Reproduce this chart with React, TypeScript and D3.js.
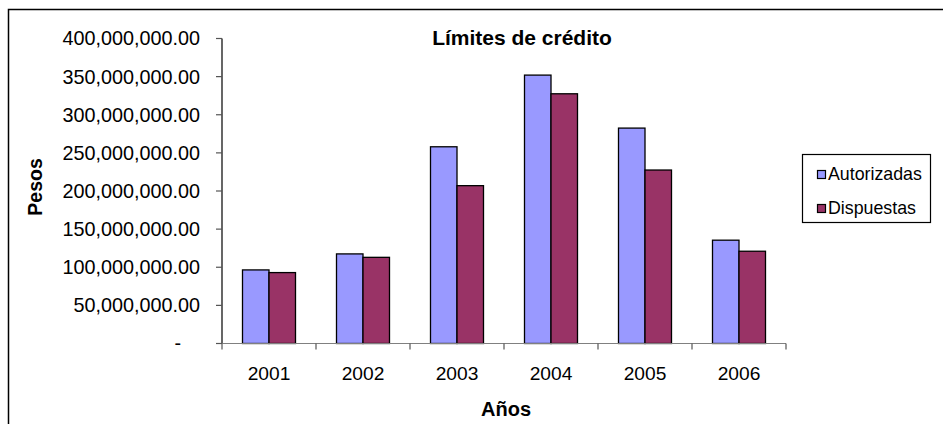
import React from "react";
import * as d3 from "d3";

const years = ["2001", "2002", "2003", "2004", "2005", "2006"];
const autorizadas = [96.5e6, 117.5e6, 258e6, 352e6, 282.5e6, 135.5e6];
const dispuestas = [93e6, 113e6, 207e6, 327.5e6, 227.5e6, 121e6];
const seriesNames = ["Autorizadas", "Dispuestas"];
const seriesColors = ["#9999FF", "#993366"];
const yTicks = [0, 50e6, 100e6, 150e6, 200e6, 250e6, 300e6, 350e6, 400e6];

const W = 943;
const H = 424;

export default function App() {
  const x = d3.scaleBand<string>().domain(years).range([222, 786]).padding(0);
  const groupW = 53;
  const xs = d3.scaleBand<string>().domain(seriesNames).range([0, groupW]).padding(0);
  const y = d3.scaleLinear().domain([0, 400e6]).range([343.5, 38.5]);
  const fmt = d3.format(",.2f");
  const font = "'Liberation Sans', Arial, sans-serif";
  const data = [autorizadas, dispuestas];

  return (
    <svg
      width={W}
      height={H}
      style={{ position: "absolute", left: 0, top: 0, background: "#fff" }}
      fontFamily={font}
    >
      <rect x={0} y={0} width={W} height={H} fill="#fff" />
      <rect x={8.5} y={9.5} width={W + 10} height={H + 10} fill="none" stroke="#000" strokeWidth={1.5} />

      <text x={522} y={45} textAnchor="middle" fontSize={21} fontWeight="bold" fill="#000">
        Límites de crédito
      </text>

      {/* bars */}
      {years.map((yr, i) =>
        seriesNames.map((s, j) => {
          const bx = (x(yr) as number) + (x.bandwidth() - groupW) / 2 + (xs(s) as number);
          const v = data[j][i];
          return (
            <rect
              key={yr + s}
              x={bx}
              y={y(v)}
              width={xs.bandwidth()}
              height={y(0) - y(v)}
              fill={seriesColors[j]}
              stroke="#000"
              strokeWidth={1.3}
            />
          );
        })
      )}

      {/* y axis */}
      <line x1={222} x2={222} y1={y(400e6)} y2={y(0)} stroke="#000" strokeWidth={1.2} />
      {yTicks.map((t) => (
        <g key={t}>
          <line x1={216} x2={222} y1={y(t)} y2={y(t)} stroke="#555" strokeWidth={1.2} />
          <text
            x={t === 0 ? 181 : 200}
            y={y(t)}
            dy="0.35em"
            textAnchor="end"
            fontSize={19.8}
            fill="#000"
          >
            {t === 0 ? "-" : fmt(t)}
          </text>
        </g>
      ))}

      {/* x axis */}
      <line x1={222} x2={786} y1={y(0)} y2={y(0)} stroke="#808080" strokeWidth={1.2} />
      {[...years.map((yr) => x(yr) as number), 786].map((tx, i) => (
        <line key={i} x1={tx} x2={tx} y1={y(0)} y2={y(0) + 6} stroke="#555" strokeWidth={1.2} />
      ))}
      {years.map((yr) => (
        <text
          key={yr}
          x={(x(yr) as number) + x.bandwidth() / 2}
          y={380}
          textAnchor="middle"
          fontSize={19.2}
          fill="#000"
        >
          {yr}
        </text>
      ))}

      <text x={506} y={416} textAnchor="middle" fontSize={20} fontWeight="bold" fill="#000">
        Años
      </text>
      <text
        transform="translate(42,187) rotate(-90)"
        textAnchor="middle"
        fontSize={19.5}
        fontWeight="bold"
        fill="#000"
      >
        Pesos
      </text>

      {/* legend */}
      <rect x={802.5} y={154.5} width={128} height={68} fill="#fff" stroke="#000" strokeWidth={1.2} />
      {seriesNames.map((s, j) => (
        <g key={s}>
          <rect
            x={817.5}
            y={170.5 + j * 34}
            width={8}
            height={8}
            fill={seriesColors[j]}
            stroke="#000"
            strokeWidth={1.2}
          />
          <text x={828} y={179.5 + j * 34} fontSize={17.8} fill="#000">
            {s}
          </text>
        </g>
      ))}
    </svg>
  );
}
